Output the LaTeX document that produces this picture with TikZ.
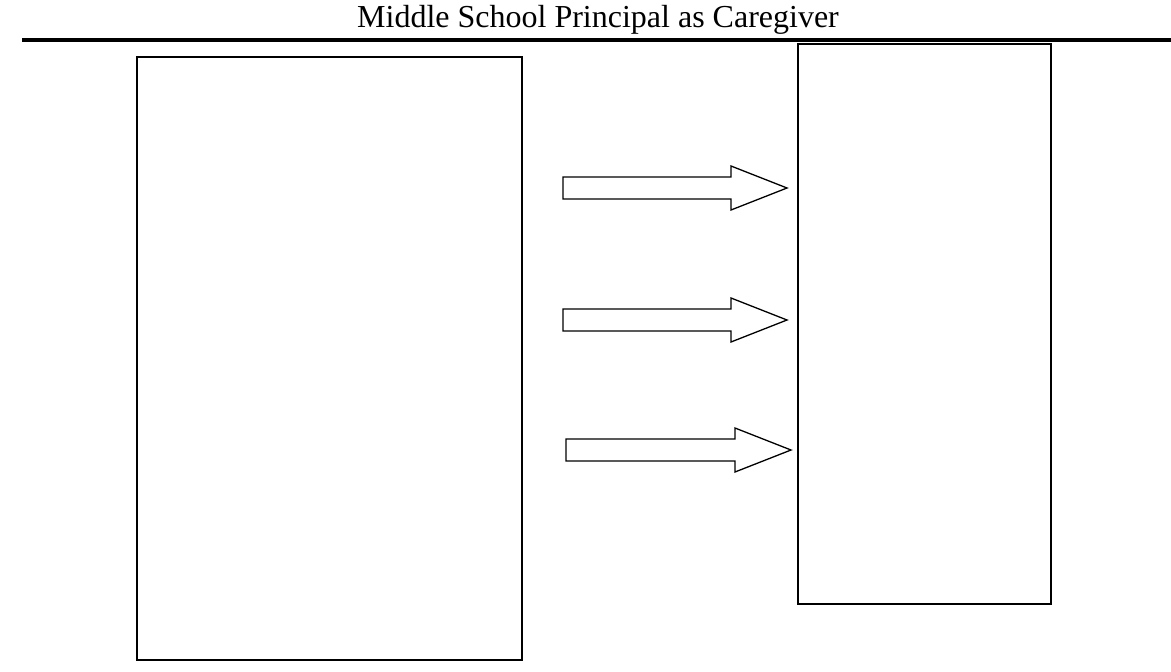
\documentclass[tikz,border=0pt]{standalone}
\usepackage{fontspec}
\setmainfont{Liberation Serif}
\tikzset{
  frame/.style={draw, line width=1.3pt, inner sep=0pt},
  blockarrow/.style={draw, line width=1.3pt, line join=miter},
}
\begin{document}
\begin{tikzpicture}[x=1pt, y=-1pt]
\useasboundingbox (0,0) rectangle (1171,672);
% title and rule
\node[anchor=base, inner sep=0pt, font=\fontsize{32}{38}\selectfont] (title) at (598,27) {Middle School Principal as Caregiver};
\coordinate (ruleL) at (22,40);
\coordinate (ruleR) at (1171,40);
\draw[line width=3.5pt] (ruleL) -- (ruleR);
% the two boxes
\node[frame, minimum width=385pt, minimum height=603pt] (left) at (329.5,358.5) {};
\node[frame, minimum width=253pt, minimum height=560pt] (right) at (924.5,324) {};
% block arrows
\foreach \ya/\xa/\xb [count=\i] in {188/563/787, 320/563/787, 450/566/791}{
  \coordinate (tail\i) at (\xa,\ya);
  \coordinate (tip\i) at (\xb,\ya);
  \draw[blockarrow] (\xa,\ya-11) -- (\xb-56,\ya-11) -- (\xb-56,\ya-22) -- (tip\i)
    -- (\xb-56,\ya+22) -- (\xb-56,\ya+11) -- (\xa,\ya+11) -- cycle;
}
\end{tikzpicture}
\end{document}
